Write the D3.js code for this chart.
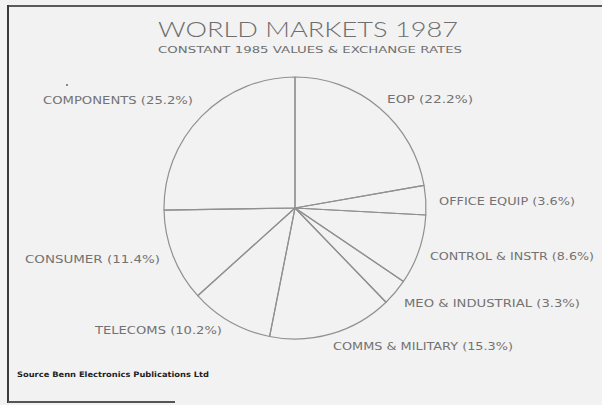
<!DOCTYPE html>
<html>
<head>
<meta charset="utf-8">
<script src="https://cdn.jsdelivr.net/npm/d3@7"></script>
<style>
  html, body { margin: 0; padding: 0; background: #f2f2f2; }
  svg { display: block; }
</style>
</head>
<body>
<svg id="chart" width="602" height="405"></svg>
<script>
// ---- data ----
const title = "WORLD MARKETS 1987";
const subtitle = "CONSTANT 1985 VALUES & EXCHANGE RATES";
const source = "Source  Benn Electronics Publications Ltd";
const categories = ["EOP", "OFFICE EQUIP", "CONTROL & INSTR", "MEO & INDUSTRIAL",
                    "COMMS & MILITARY", "TELECOMS", "CONSUMER", "COMPONENTS"];
const shares = [22.2, 3.6, 8.6, 3.3, 15.3, 10.2, 11.4, 25.2];

// ---- layout (positions / styles, kept separate from data) ----
const W = 602, H = 405;
const cx = 295, cy = 208, R = 131;
// label anchor: [x start, baseline y, text width]
const labelLayout = {
  "EOP": [387, 103, 86],
  "OFFICE EQUIP": [439, 205, 136],
  "CONTROL & INSTR": [430, 260, 164],
  "MEO & INDUSTRIAL": [404, 307, 176],
  "COMMS & MILITARY": [333, 350, 180],
  "TELECOMS": [95, 334, 127],
  "CONSUMER": [25, 263, 135],
  "COMPONENTS": [43, 104, 150]
};

const svg = d3.select("#chart");
svg.append("rect").attr("width", W).attr("height", H).attr("fill", "#f2f2f2");

// frame
svg.append("line").attr("x1", 8).attr("y1", 6).attr("x2", 602).attr("y2", 6)
  .attr("stroke", "#5a5a5a").attr("stroke-width", 2);
svg.append("line").attr("x1", 8).attr("y1", 5).attr("x2", 8).attr("y2", 403)
  .attr("stroke", "#3a3a3a").attr("stroke-width", 2);
svg.append("line").attr("x1", 8).attr("y1", 402).attr("x2", 175).attr("y2", 402)
  .attr("stroke", "#555").attr("stroke-width", 2);

// titles
svg.append("text").attr("x", 158).attr("y", 37)
  .attr("font-family", "Lato, 'DejaVu Sans', sans-serif").attr("font-weight", 300)
  .attr("font-size", 22).attr("fill", "#6e6e6e")
  .attr("textLength", 300).attr("lengthAdjust", "spacingAndGlyphs")
  .text(title);
svg.append("text").attr("x", 158).attr("y", 53)
  .attr("font-family", "'DejaVu Sans', sans-serif")
  .attr("font-size", 9.5).attr("fill", "#707070")
  .attr("textLength", 304).attr("lengthAdjust", "spacingAndGlyphs")
  .text(subtitle);

// pie
const pie = d3.pie().sort(null).value(d => d.v).startAngle(0).endAngle(2 * Math.PI);
const arcs = pie(categories.map((c, i) => ({ c, v: shares[i] })));
const arc = d3.arc().innerRadius(0).outerRadius(R);

const g = svg.append("g").attr("transform", `translate(${cx},${cy})`);
g.selectAll("path").data(arcs).join("path")
  .attr("d", arc)
  .attr("fill", "none")
  .attr("stroke", "#909090")
  .attr("stroke-width", 1.2)
  .attr("stroke-linejoin", "round");

// labels
svg.append("g").selectAll("text").data(arcs).join("text")
  .attr("x", d => labelLayout[d.data.c][0])
  .attr("y", d => labelLayout[d.data.c][1])
  .attr("textLength", d => labelLayout[d.data.c][2])
  .attr("lengthAdjust", "spacingAndGlyphs")
  .attr("font-family", "'DejaVu Sans', sans-serif")
  .attr("font-size", 10)
  .attr("fill", "#727272")
  .text(d => `${d.data.c} (${d.data.v.toFixed(1)}%)`);

// stray dot from the original
svg.append("circle").attr("cx", 67).attr("cy", 85).attr("r", 1).attr("fill", "#666");

// source
svg.append("text").attr("x", 17).attr("y", 377)
  .attr("font-family", "'DejaVu Sans', sans-serif").attr("font-weight", "bold")
  .attr("font-size", 7.5).attr("fill", "#222")
  .attr("textLength", 192).attr("lengthAdjust", "spacingAndGlyphs")
  .text(source);
</script>
</body>
</html>
